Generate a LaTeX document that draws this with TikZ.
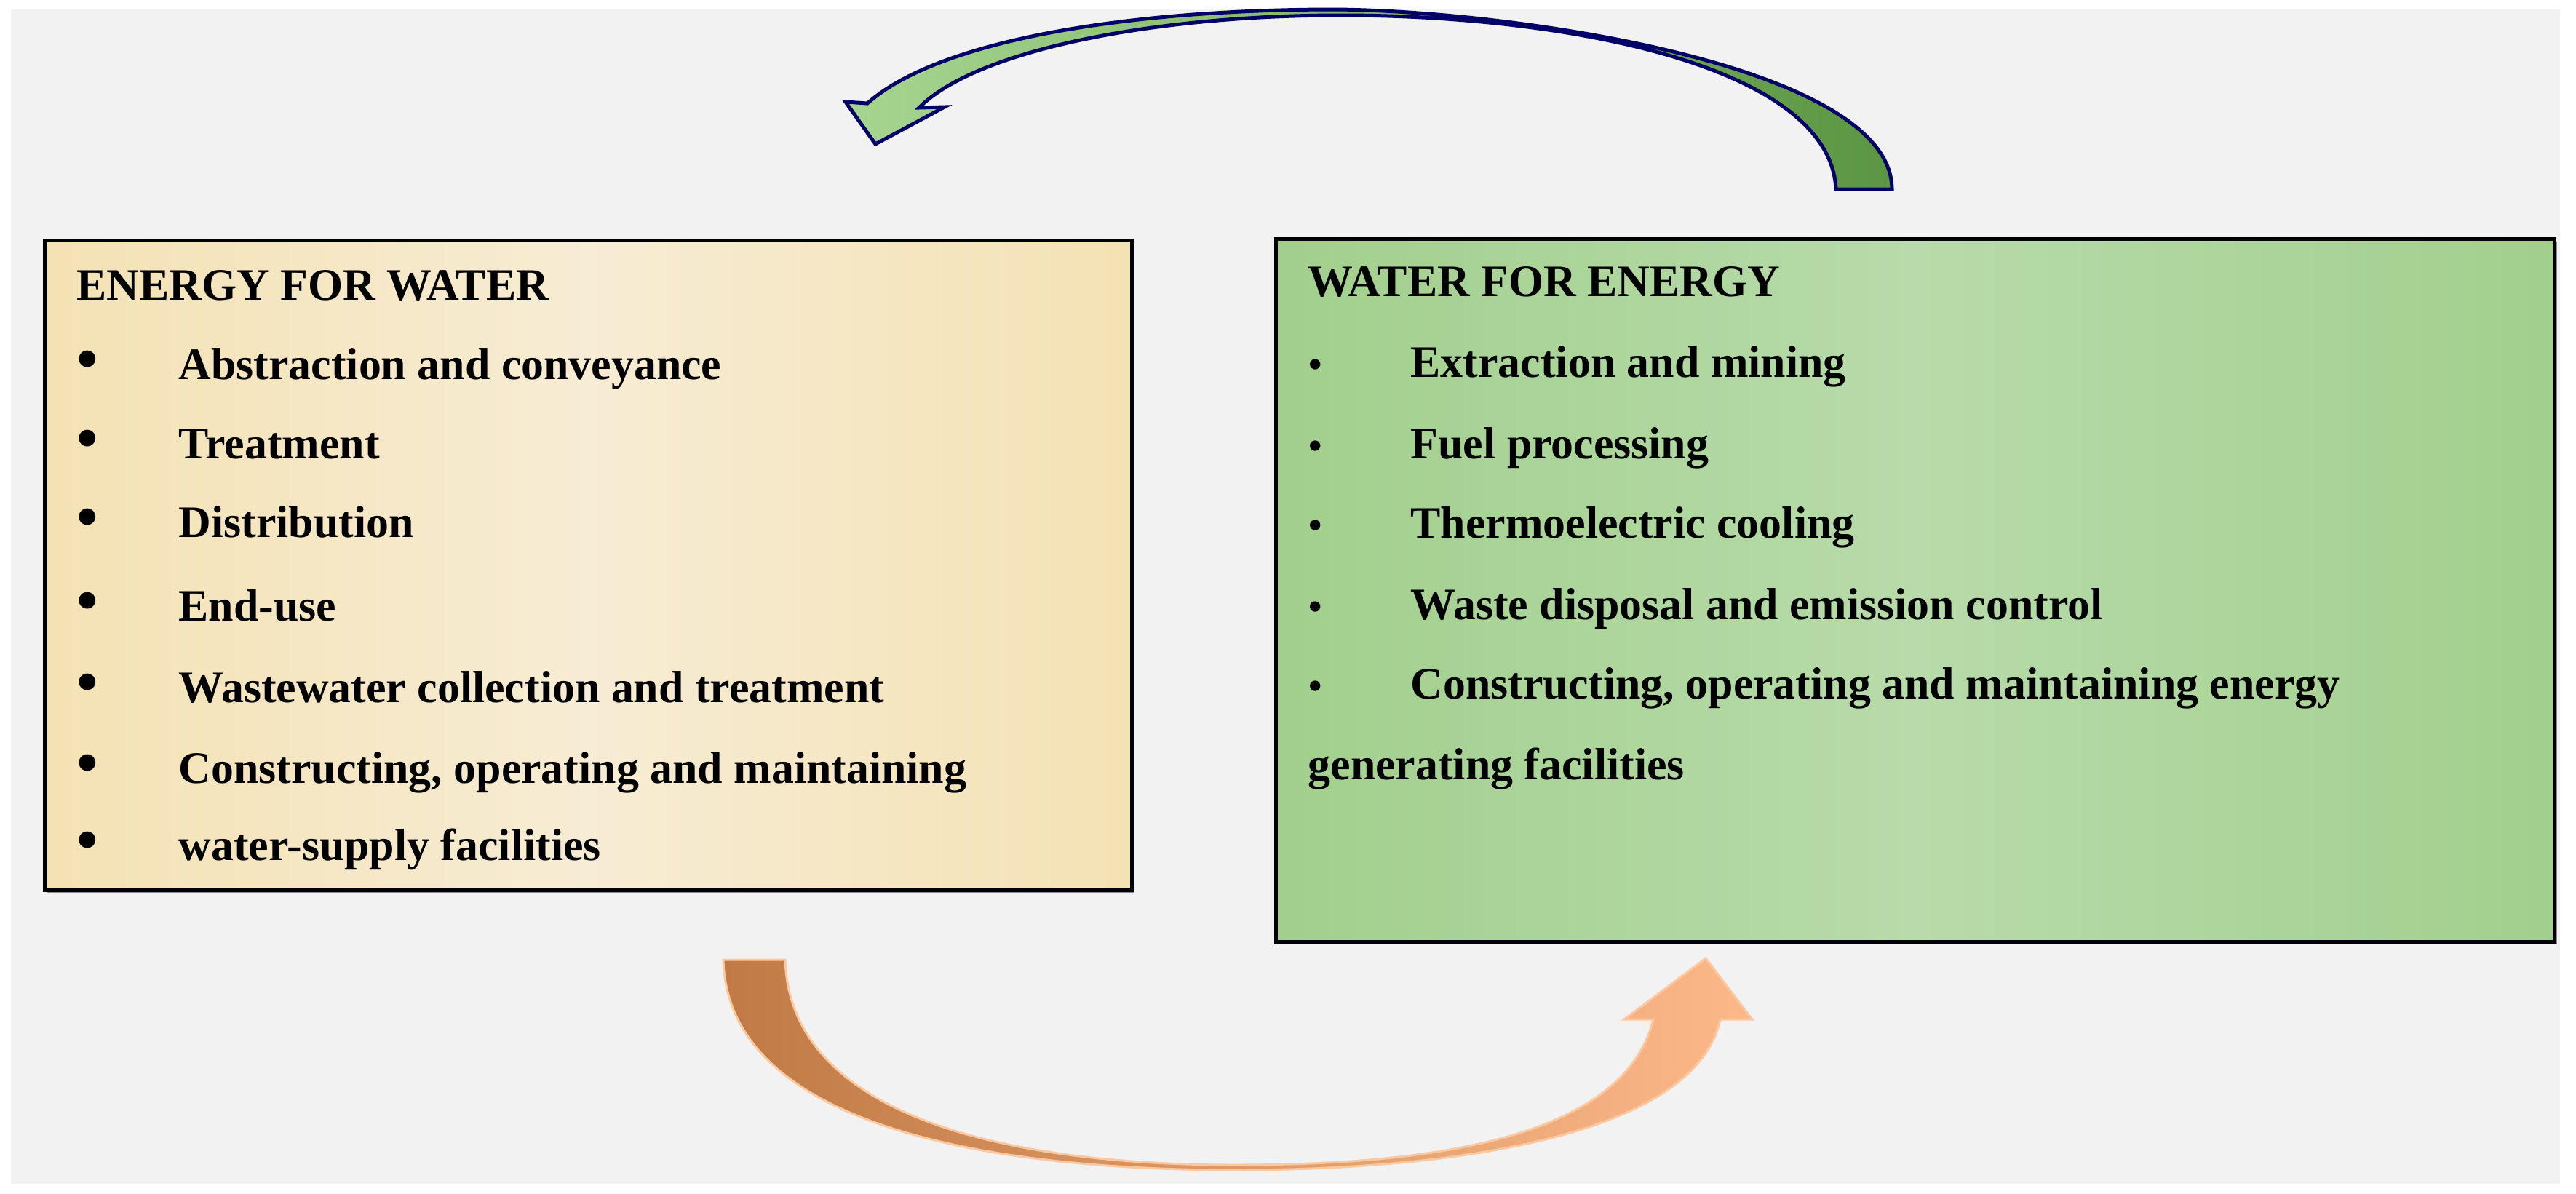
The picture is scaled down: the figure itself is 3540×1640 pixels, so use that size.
\documentclass[tikz,border=0pt]{standalone}
\usepackage{fontspec}
\setmainfont{Liberation Serif}
\definecolor{bggray}{HTML}{F2F2F2}
\definecolor{navy}{HTML}{000066}
\definecolor{beigeA}{HTML}{F4E2B4}
\definecolor{beigeB}{HTML}{F7ECD4}
\definecolor{greenA}{HTML}{A2CF8D}
\definecolor{greenB}{HTML}{B7DBAA}
\definecolor{shadowc}{HTML}{8A8A9A}
\definecolor{arrLgt}{HTML}{A6D590}
\definecolor{arrMid}{HTML}{7CB35E}
\definecolor{arrDrk}{HTML}{5B9642}
\definecolor{orgL}{HTML}{BF7A45}
\definecolor{orgM}{HTML}{F2A266}
\definecolor{orgR}{HTML}{FDB88A}
\definecolor{orgEdge}{HTML}{FCC8A0}
\begin{document}
\begin{tikzpicture}[x=0.1mm,y=-0.1mm,
  boxline/.style={draw=black,line width=0.5mm},
  txt/.style={anchor=base west,inner sep=0pt,font=\fontsize{17.6}{20}\selectfont\bfseries},
  bigbul/.style={anchor=base,inner sep=0pt,font=\fontsize{24}{26}\selectfont\bfseries},
  smallbul/.style={anchor=base,inner sep=0pt,font=\fontsize{15}{18}\selectfont\bfseries}]
\useasboundingbox (0,0) rectangle (3540,1640);
\fill[white] (0,0) rectangle (3540,1640);
\fill[bggray] (15,13) rectangle (3518,1627);
% shadows
\fill[shadowc] (65,334) rectangle (1559,1227);
\fill[shadowc] (1757,332) rectangle (3514,1298);
% boxes
\shade[left color=beigeA,right color=beigeA,middle color=beigeB] (61,330) rectangle (1555,1223);
\draw[boxline] (61,330) rectangle (1555,1223);
\coordinate (lbox) at (808,776);
\shade[left color=greenA,right color=greenA,middle color=greenB] (1753,328) rectangle (3510,1294);
\draw[boxline] (1753,328) rectangle (3510,1294);
\coordinate (rbox) at (2631,811);
% left texts
\node[txt] (lt) at (105,412) {ENERGY FOR WATER};
\node[bigbul] (lb1) at (120,521) {•};
\node[txt] (l1) at (245,521) {Abstraction and conveyance};
\node[bigbul] (lb2) at (120,630) {•};
\node[txt] (l2) at (245,630) {Treatment};
\node[bigbul] (lb3) at (120,738) {•};
\node[txt] (l3) at (245,738) {Distribution};
\node[bigbul] (lb4) at (120,853) {•};
\node[txt] (l4) at (245,853) {End-use};
\node[bigbul] (lb5) at (120,965) {•};
\node[txt] (l5) at (245,965) {Wastewater collection and treatment};
\node[bigbul] (lb6) at (120,1076) {•};
\node[txt] (l6) at (245,1076) {Constructing, operating and maintaining};
\node[bigbul] (lb7) at (120,1182) {•};
\node[txt] (l7) at (245,1182) {water-supply facilities};
% right texts
\node[txt] (rt) at (1797,407) {WATER FOR ENERGY};
\node[smallbul] (rb1) at (1808,518) {•};
\node[txt] (r1) at (1938,518) {Extraction and mining};
\node[smallbul] (rb2) at (1808,630) {•};
\node[txt] (r2) at (1938,630) {Fuel processing};
\node[smallbul] (rb3) at (1808,739) {•};
\node[txt] (r3) at (1938,739) {Thermoelectric cooling};
\node[smallbul] (rb4) at (1808,851) {•};
\node[txt] (r4) at (1938,851) {Waste disposal and emission control};
\node[smallbul] (rb5) at (1808,960) {•};
\node[txt] (r5) at (1938,960) {Constructing, operating and maintaining energy};
\node[txt] (r6) at (1797,1071) {generating facilities};
% top curved arrow (water for energy -> energy for water)
\shadedraw[left color=arrLgt,middle color=arrMid,right color=arrDrk,draw=navy,line width=0.5mm,line join=miter]
  (2600,260) -- (2523,260)
  .. controls (2515,90) and (2150,20) .. (1835,21)
  .. controls (1580,22) and (1340,70) .. (1263,148)
  -- (1298,147) -- (1203,198) -- (1162,140) -- (1192,142)
  .. controls (1290,55) and (1550,13) .. (1835,13)
  .. controls (2080,15) and (2600,90) .. (2600,260) -- cycle;
% bottom curved arrow (energy for water -> water for energy)
\shadedraw[left color=orgL,middle color=orgM,right color=orgR,draw=orgEdge,line width=0.3mm]
  (994,1319) -- (1079,1319)
  .. controls (1085,1540) and (1400,1601) .. (1696,1601)
  .. controls (1950,1601) and (2230,1570) .. (2272,1401)
  -- (2232,1401) -- (2344,1317) -- (2408,1401) -- (2364,1401)
  .. controls (2330,1560) and (2000,1608) .. (1696,1608)
  .. controls (1400,1608) and (1000,1560) .. (994,1319) -- cycle;
\end{tikzpicture}
\end{document}
